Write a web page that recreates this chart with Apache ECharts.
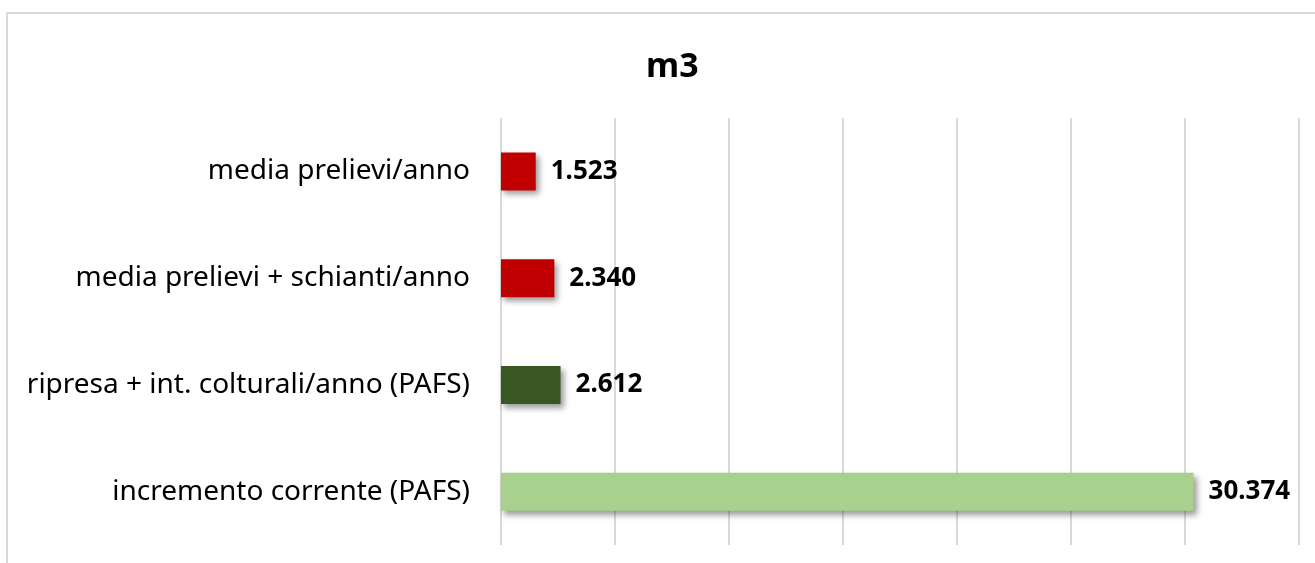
<!DOCTYPE html>
<html>
<head>
<meta charset="utf-8">
<script src="https://cdn.jsdelivr.net/npm/echarts@6/dist/echarts.min.js"></script>
<style>
    html, body { margin: 0; padding: 0; background: #fff; }
    #chart { width: 1315px; height: 563px; }
</style>
</head>
<body>
<div id="chart"></div>
<script>
// categories top to bottom
const categories = [
    'media prelievi/anno',
    'media prelievi + schianti/anno',
    'ripresa + int. colturali/anno (PAFS)',
    'incremento corrente (PAFS)'
]
const values = [1523, 2340, 2612, 30374]
const barColors = ['#C00000', '#C00000', '#385723', '#A9D18E']

const fmt = v => String(v).replace(/\B(?=(\d{3})+(?!\d))/g, '.')

const chart = echarts.init(document.getElementById('chart'))

const option = {
    animation: false,
    textStyle: { fontFamily: '"Noto Sans", sans-serif' },
    title: {
        text: 'm3',
        left: 641,
        top: 45,
        textStyle: { fontSize: 34, fontWeight: 'bold', color: '#000' }
    },
    graphic: [{
        type: 'rect',
        shape: { x: 7, y: 13, width: 1400, height: 700 },
        style: { fill: 'none', stroke: '#d9d9d9', lineWidth: 2 },
        silent: true
    }],
    grid: { left: 501, right: 16, top: 118, bottom: 18 },
    xAxis: {
        type: 'value',
        min: 0,
        max: 35000,
        interval: 5000,
        axisLabel: { show: false },
        axisLine: { show: false },
        axisTick: { show: false },
        splitLine: { lineStyle: { color: '#d9d9d9', width: 2 } }
    },
    yAxis: {
        type: 'category',
        inverse: true,
        data: categories,
        axisLine: { show: false },
        axisTick: { show: false },
        axisLabel: { fontSize: 28, color: '#000', margin: 31 }
    },
    series: [{
        type: 'bar',
        barWidth: 38,
        data: values.map((v, i) => ({ value: v, itemStyle: { color: barColors[i] } })),
        itemStyle: {
            shadowBlur: 6,
            shadowOffsetX: 3,
            shadowOffsetY: 4,
            shadowColor: 'rgba(0, 0, 0, 0.4)'
        },
        label: {
            show: true,
            position: 'right',
            distance: 15,
            fontSize: 26,
            fontWeight: 'bold',
            color: '#000',
            formatter: p => fmt(p.value)
        }
    }]
}

chart.setOption(option)
</script>
</body>
</html>
